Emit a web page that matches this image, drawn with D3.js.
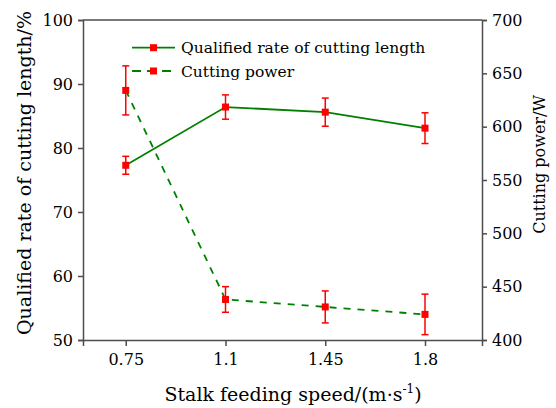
<!DOCTYPE html>
<html>
<head>
<meta charset="utf-8">
<script src="https://cdn.jsdelivr.net/npm/d3@7"></script>
<style>
  body { margin: 0; background: #fff; }
</style>
</head>
<body>
<script>
// data
var speeds = [0.75, 1.1, 1.45, 1.8];
var qualified = [77.3, 86.4, 85.6, 83.1];
var qualifiedErr = [1.4, 1.9, 2.2, 2.4];
var power = [634, 438, 431, 424];
var powerErr = [23, 12, 15, 19];
var leftTicks = [50, 60, 70, 80, 90, 100];
var rightTicks = [400, 450, 500, 550, 600, 650, 700];
var seriesNames = ["Qualified rate of cutting length", "Cutting power"];

var W = 556, H = 408;
var margin = {top: 20, right: 74, bottom: 68, left: 83},
    width = W - margin.left - margin.right,
    height = H - margin.top - margin.bottom;

var green = "#008000", red = "#ff0000", axisCol = "#4d4d4d";
var serif = "'DejaVu Serif', 'Liberation Serif', serif";

var svg = d3.select("body").append("svg")
    .attr("width", W).attr("height", H)
    .style("font-family", serif);
var g = svg.append("g")
    .attr("transform", "translate(" + margin.left + "," + margin.top + ")");

// scales
var x = d3.scaleLinear().domain([0.6, 2.0]).range([0, width]);
var yL = d3.scaleLinear().domain([50, 100]).range([height, 0]);
var yR = d3.scaleLinear().domain([400, 700]).range([height, 0]);

function styleAxis(sel) {
  sel.attr("font-family", null).attr("font-size", 16);
  sel.select(".domain").attr("stroke", axisCol).attr("stroke-width", 1.5);
  sel.selectAll(".tick line").attr("stroke", axisCol).attr("stroke-width", 1.5);
  sel.selectAll(".tick text").attr("fill", "#000");
}

// axes
g.append("g").attr("transform", "translate(0," + height + ")")
  .call(d3.axisBottom(x).tickValues(speeds).tickFormat(d3.format("")).tickSizeOuter(0).tickSize(6).tickPadding(8))
  .call(styleAxis);
g.append("g")
  .call(d3.axisLeft(yL).tickValues(leftTicks).tickSizeOuter(0).tickSize(5).tickPadding(5))
  .call(styleAxis);
g.append("g").attr("transform", "translate(" + width + ",0)")
  .call(d3.axisRight(yR).tickValues(rightTicks).tickSizeOuter(0).tickSize(5).tickPadding(5))
  .call(styleAxis);
g.append("line")
  .attr("x1", 0).attr("x2", width).attr("y1", 0).attr("y2", 0)
  .attr("stroke", axisCol).attr("stroke-width", 1.5);

// series
var qData = speeds.map(function(s, i) { return {x: s, y: qualified[i], e: qualifiedErr[i]}; });
var pData = speeds.map(function(s, i) { return {x: s, y: power[i], e: powerErr[i]}; });

function errorBars(data, yScale) {
  var eb = g.append("g").attr("stroke", red).attr("stroke-width", 1.5).attr("fill", "none");
  data.forEach(function(d) {
    var cx = x(d.x), y0 = yScale(d.y - d.e), y1 = yScale(d.y + d.e);
    eb.append("line").attr("x1", cx).attr("x2", cx).attr("y1", y0).attr("y2", y1);
    eb.append("line").attr("x1", cx - 3.5).attr("x2", cx + 3.5).attr("y1", y0).attr("y2", y0);
    eb.append("line").attr("x1", cx - 3.5).attr("x2", cx + 3.5).attr("y1", y1).attr("y2", y1);
  });
}
errorBars(qData, yL);
errorBars(pData, yR);

var lineQ = d3.line().x(function(d) { return x(d.x); }).y(function(d) { return yL(d.y); });
var lineP = d3.line().x(function(d) { return x(d.x); }).y(function(d) { return yR(d.y); });

g.append("path").datum(qData).attr("d", lineQ)
  .attr("fill", "none").attr("stroke", green).attr("stroke-width", 1.8);
g.append("path").datum(pData).attr("d", lineP)
  .attr("fill", "none").attr("stroke", green).attr("stroke-width", 1.8)
  .attr("stroke-dasharray", "7,7");

g.selectAll(".mq").data(qData).enter().append("rect")
  .attr("x", function(d) { return x(d.x) - 3.5; })
  .attr("y", function(d) { return yL(d.y) - 3.5; })
  .attr("width", 7).attr("height", 7).attr("fill", red);
g.selectAll(".mp").data(pData).enter().append("rect")
  .attr("x", function(d) { return x(d.x) - 3.5; })
  .attr("y", function(d) { return yR(d.y) - 3.5; })
  .attr("width", 7).attr("height", 7).attr("fill", red);

// legend
var legend = svg.append("g").attr("transform", "translate(132,0)");
[0, 1].forEach(function(i) {
  var ly = i === 0 ? 47.7 : 71;
  legend.append("line").attr("x1", 0).attr("x2", 43).attr("y1", ly).attr("y2", ly)
    .attr("stroke", green).attr("stroke-width", 1.8)
    .attr("stroke-dasharray", i === 0 ? null : "9,6");
  legend.append("rect").attr("x", 18).attr("y", ly - 3.5).attr("width", 7).attr("height", 7).attr("fill", red);
  legend.append("text").attr("x", 49).attr("y", ly + 5.5)
    .attr("font-size", 15.5).text(seriesNames[i]);
});

// axis titles
var xt = svg.append("text").attr("x", 293).attr("y", 401)
  .attr("text-anchor", "middle").attr("font-size", 19);
xt.append("tspan").text("Stalk feeding speed/(m\u00b7s");
xt.append("tspan").attr("dy", -8).attr("font-size", 12).text("-1");
xt.append("tspan").attr("dy", 8).text(")");

svg.append("text")
  .attr("transform", "translate(31,173) rotate(-90)")
  .attr("text-anchor", "middle").attr("font-size", 19)
  .text("Qualified rate of cutting length/%");

svg.append("text")
  .attr("transform", "translate(545,164.5) rotate(-90)")
  .attr("text-anchor", "middle").attr("font-size", 16)
  .text("Cutting power/W");
</script>
</body>
</html>
